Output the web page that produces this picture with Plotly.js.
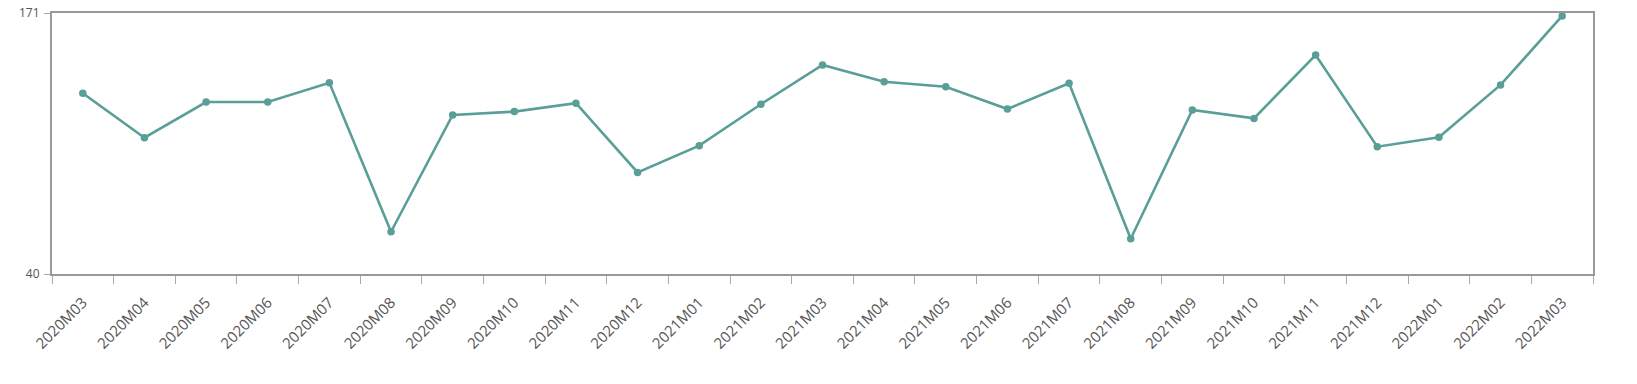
<!DOCTYPE html>
<html>
<head>
<meta charset="utf-8">
<script src="https://cdn.plot.ly/plotly-3.0.1.min.js"></script>
<style>html,body{margin:0;padding:0;background:#fff;}#chart{width:1637px;height:384px;}</style>
</head>
<body>
<div id="chart"></div>
<script>
var categories = ["2020M03","2020M04","2020M05","2020M06","2020M07","2020M08","2020M09","2020M10","2020M11","2020M12",
  "2021M01","2021M02","2021M03","2021M04","2021M05","2021M06","2021M07","2021M08","2021M09","2021M10","2021M11","2021M12",
  "2022M01","2022M02","2022M03"];
var values = [130.7,108.4,126.3,126.3,136.0,61.2,119.8,121.5,125.7,91.0,
  104.4,125.2,144.9,136.5,134.0,122.8,135.7,57.7,122.3,118.1,149.9,103.9,
  108.6,134.9,169.5];
var yTicks = [40,171];

var trace = {
  x: categories, y: values, type: 'scatter', mode: 'lines+markers',
  line: {color: '#5a9e98', width: 2.6},
  marker: {color: '#5a9e98', size: 7.5},
  hoverinfo: 'x+y', cliponaxis: false
};
var layout = {
  width: 1637, height: 384,
  margin: {l: 52, r: 44, t: 13, b: 110, pad: 0},
  paper_bgcolor: '#fff', plot_bgcolor: '#fff',
  showlegend: false,
  font: {family: '"Open Sans", sans-serif', color: '#555', size: 12},
  xaxis: {
    type: 'category', tickangle: -45, tickson: 'boundaries',
    range: [-0.5, categories.length - 0.5], autorange: false,
    ticks: 'outside', ticklen: 8, tickwidth: 1, tickcolor: '#aaa',
    ticklabelstandoff: 12,
    showline: true, linecolor: '#999', linewidth: 2, mirror: true,
    showgrid: false, zeroline: false,
    tickfont: {size: 15, color: '#555'}
  },
  yaxis: {
    range: [40,171], autorange: false, tickvals: yTicks, ticktext: yTicks.map(String),
    ticks: 'outside', ticklen: 6, tickwidth: 1, tickcolor: '#aaa',
    ticklabelstandoff: 2,
    showline: true, linecolor: '#999', linewidth: 2, mirror: true,
    showgrid: false, zeroline: false,
    tickfont: {size: 12, color: '#555'}
  }
};
Plotly.newPlot('chart', [trace], layout, {displayModeBar: false, staticPlot: true});
</script>
</body>
</html>
